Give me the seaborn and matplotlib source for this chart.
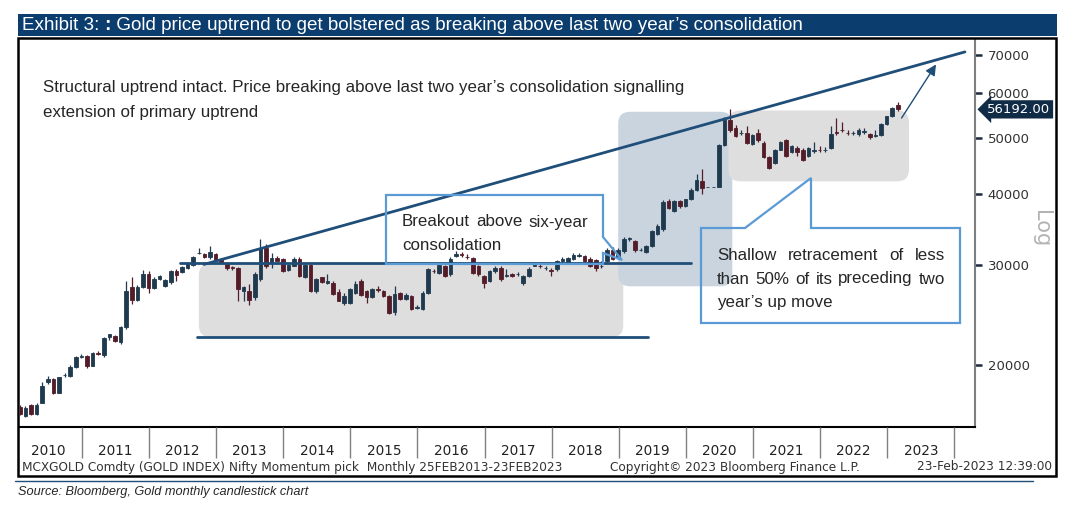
import numpy as np
import pandas as pd
import matplotlib
matplotlib.use('Agg')
import matplotlib.pyplot as plt
import matplotlib.transforms as mtransforms
from matplotlib.patches import FancyBboxPatch, Polygon, Rectangle
from matplotlib.lines import Line2D
from matplotlib.ticker import NullLocator
import seaborn as sns

# MCX gold, monthly candles Jan 2010 .. Feb 2023
opens = [16900, 16300, 17000, 16400, 17200, 18650, 18950, 17900, 19200, 19150, 19850, 20650,
         20750, 19950, 21000, 20800, 22400, 22500, 22000, 23300, 27400, 26050, 27400, 28950,
         27300, 28300, 27550, 27950, 29300, 29100, 29600, 30000, 31400, 31300, 30950, 31300,
         30700, 30200, 29700, 29600, 26950, 27000, 26300, 28300, 32100, 30250, 30850, 30650,
         29350, 29900, 30750, 28550, 30000, 26950, 28500, 27900, 27900, 26900, 25700, 25750,
         26800, 28100, 26950, 26300, 27150, 27000, 26450, 24800, 26800, 26100, 26450, 25200,
         25050, 26800, 29300, 29050, 29850, 28850, 31100, 31300, 31000, 30850, 29850, 28650,
         28100, 29200, 29650, 28700, 28850, 28900, 27900, 28650, 29900, 29900, 29600, 29400,
         29450, 30500, 30250, 30650, 31100, 31050, 30700, 30550, 29800, 30450, 31900, 30900,
         31700, 33300, 33000, 31800, 31550, 32300, 33900, 34600, 38800, 37250, 38800, 38050,
         39050, 40650, 42000, 41100, 41100, 41100, 48700, 53900, 52100, 51000, 51000, 48900,
         51000, 49100, 46400, 45200, 47750, 49600, 47350, 48100, 47750, 46600, 47500, 47700,
         47600, 48150, 51300, 51800, 51100, 51000, 50800, 51300, 50800, 50500, 50700, 53000,
         54600, 57300]
highs = [17000, 16950, 17100, 17150, 18650, 19150, 19000, 19100, 19350, 20000, 20750, 20900,
         20850, 21100, 21200, 22400, 22700, 22600, 23400, 28150, 28550, 27600, 29400, 29250,
         28500, 28800, 28300, 29400, 29500, 29800, 30250, 31100, 32100, 31400, 32400, 31500,
         30800, 30300, 29900, 29700, 27550, 27750, 29100, 33350, 32650, 31500, 31100, 30800,
         30100, 31000, 30900, 30150, 30100, 28450, 28600, 28950, 28100, 27150, 26800, 27300,
         28100, 28300, 27100, 27300, 27550, 27100, 26600, 27550, 26900, 26800, 26600, 25500,
         27000, 29600, 29500, 30100, 30000, 30900, 31700, 31600, 31300, 31000, 30000, 28800,
         29400, 29800, 29800, 29450, 29050, 29100, 28800, 29700, 30300, 30100, 29850, 29600,
         30600, 30900, 31000, 31400, 31450, 31200, 30900, 30700, 30450, 32100, 32200, 32050,
         33500, 33600, 33100, 32050, 32450, 34500, 35300, 39000, 39100, 39000, 39000, 39200,
         40900, 43300, 44250, 41100, 41100, 48900, 54400, 56300, 52800, 51600, 52500, 50900,
         52000, 49400, 46600, 47900, 49500, 49900, 48600, 48500, 48000, 48300, 49200, 48400,
         48200, 52600, 54200, 53400, 51600, 51400, 52100, 52200, 51000, 51600, 53200, 54800,
         56800, 58000]
lows = [16350, 16250, 16350, 16350, 17150, 18500, 17800, 17850, 19050, 19050, 19800, 20550,
        19800, 19900, 20800, 20700, 22100, 21950, 21750, 23100, 25600, 25900, 27300, 26800,
        27200, 28200, 27450, 27800, 28100, 29000, 29500, 29900, 31350, 30800, 30650, 30400,
        30200, 29400, 29400, 25900, 25950, 25450, 26000, 28100, 29650, 29650, 30400, 29150,
        29200, 29800, 28500, 28400, 26900, 26800, 27900, 27800, 26600, 25900, 25500, 25600,
        26650, 26400, 25700, 26200, 26900, 26350, 24600, 24500, 26000, 26000, 24950, 25100,
        24950, 26700, 29000, 28900, 28500, 28700, 30900, 30950, 30700, 28900, 28700, 27350,
        27950, 29050, 28150, 28550, 28550, 28700, 27600, 28500, 29800, 29600, 29400, 28650,
        29300, 30200, 30150, 30550, 30950, 30300, 29700, 29300, 29650, 30300, 30600, 30750,
        31500, 33000, 31650, 31700, 31400, 32200, 33800, 34450, 37600, 37100, 37800, 37900,
        38900, 40400, 39900, 41100, 41100, 41000, 48400, 51300, 50200, 50600, 48900, 48700,
        49300, 46200, 44100, 45000, 47600, 46400, 47200, 46600, 45600, 46400, 47200, 47300,
        47300, 47850, 50600, 51300, 50600, 50600, 50500, 50900, 49900, 50300, 50500, 52800,
        54400, 55900]
closes = [16400, 16850, 16400, 17050, 18400, 18950, 17900, 19050, 19250, 19850, 20650, 20750,
          19950, 21000, 20950, 22300, 22650, 22050, 23350, 27000, 26000, 27400, 28950, 27300,
          28300, 28650, 28200, 29250, 28800, 29700, 30150, 30950, 31500, 30900, 31600, 30500,
          30300, 29600, 29650, 27200, 27450, 26000, 28850, 32100, 29900, 30800, 30500, 29250,
          30000, 30650, 28650, 30000, 27000, 28300, 28000, 28150, 26700, 25950, 26450, 27150,
          27750, 26550, 26300, 27150, 27100, 26450, 24700, 26650, 26100, 26600, 25050, 25300,
          26800, 29450, 29200, 29950, 28650, 30650, 31300, 31150, 30900, 29050, 28850, 27900,
          29250, 29650, 28300, 28800, 28700, 28950, 28650, 29550, 30100, 29800, 29650, 29300,
          30450, 30650, 30850, 31250, 31200, 30450, 29850, 29650, 29900, 31900, 30700, 31900,
          33350, 33450, 31800, 31900, 32300, 34350, 35050, 38700, 37800, 38800, 38000, 39050,
          40650, 42300, 40950, 41100, 41100, 48700, 53900, 51700, 50400, 51100, 49100, 50700,
          49600, 46400, 44300, 47750, 49300, 46600, 48400, 47300, 45850, 48100, 47600, 47600,
          47700, 50900, 51000, 51600, 51000, 51100, 51600, 51400, 50300, 50700, 52900, 54600,
          56500, 56192]
years = ['2010', '2011', '2012', '2013', '2014', '2015', '2016', '2017', '2018', '2019',
         '2020', '2021', '2022', '2023']
price_ticks = [20000, 30000, 40000, 50000, 60000, 70000]

W, H = 1075, 505
UP = '#1f3a4f'
DOWN = '#531c28'
LINE = '#1f4e79'
CALLOUT = '#5b9bd5'
SANS = ['Liberation Sans', 'DejaVu Sans']
NOTE = 12.2

sns.set_theme(style='white')
plt.rcParams['font.family'] = ['DejaVu Sans']

fig = plt.figure(figsize=(W / 100, H / 100), dpi=100)
renderer = fig.canvas.get_renderer()


def px(x, y):
    return x / W, 1 - y / H


ax = fig.add_axes([20 / W, 1 - 427 / H, 955 / W, 387 / H])
axd = fig.add_axes([20 / W, 1 - 460 / H, 955 / W, 33 / H])

df = pd.DataFrame({'open': opens, 'high': highs, 'low': lows, 'close': closes})
df['t'] = np.arange(len(df))
col = np.where(df['close'] >= df['open'], UP, DOWN)

ax.set_yscale('log')
ax.set_xlim(0.02, 170.8)
ax.set_ylim(15580, 74360)

# candles
ax.vlines(df['t'], df['low'], df['high'], colors=col, lw=0.9, zorder=3)
ax.bar(df['t'], df['close'] - df['open'], bottom=df['open'], width=0.64,
       color=col, edgecolor=col, lw=0.6, zorder=4)


# shaded zones (month index, price)
def zone(t0, t1, p0, p1, color):
    (x0, y0), (x1, y1) = ax.transData.transform([(t0, p0), (t1, p1)])
    ax.add_patch(FancyBboxPatch((x0, y0), x1 - x0, y1 - y0,
                                boxstyle='round,pad=0,rounding_size=12',
                                transform=mtransforms.IdentityTransform(),
                                fc=color, ec='none', zorder=1))


zone(32.0, 107.9, 22390, 30160, '#dedede')
zone(107.0, 127.4, 27500, 55650, '#c9d4df')
zone(126.7, 159.0, 42020, 55940, '#dedede')

# trend, resistance and support lines
guides = pd.DataFrame({'t': [32.9, 169.0, 28.6, 120.0, 31.7, 112.4],
                       'price': [30040, 70870, 30160, 30160, 22390, 22390],
                       'line': ['trend', 'trend', 'res', 'res', 'sup', 'sup']})
sns.lineplot(data=guides, x='t', y='price', units='line', estimator=None,
             color=LINE, lw=2, ax=ax, zorder=5, legend=False)
ax.annotate('', xy=(164.1, 68010), xytext=(157.4, 53750),
            arrowprops=dict(arrowstyle='-|>', color=LINE, lw=1, mutation_scale=16),
            zorder=5)

ax.set_xlabel('')
ax.set_ylabel('')
ax.set_xticks([])
ax.set_yticks(price_ticks)
ax.set_yticklabels([str(p) for p in price_ticks])
ax.yaxis.set_minor_locator(NullLocator())
ax.yaxis.tick_right()
ax.tick_params(axis='y', which='major', right=True, left=False, labelright=True,
               labelleft=False, direction='out', length=5, width=1.8,
               color='#1a2a3a', labelsize=9.5, labelcolor='#333333', pad=4)
for s in ['left', 'top']:
    ax.spines[s].set_visible(False)
ax.spines['bottom'].set_color('black')
ax.spines['bottom'].set_linewidth(1.5)
ax.spines['right'].set_color('#808080')
ax.spines['right'].set_linewidth(1.5)

# last price tag
tag = mtransforms.blended_transform_factory(ax.transAxes, ax.transData)
ax.text(1.046, closes[-1], f'{closes[-1]:.2f}', transform=tag, ha='center',
        va='center', color='white', size=9.5, clip_on=False,
        bbox=dict(boxstyle='larrow,pad=0.2', fc='#0f2b46', ec='none'))

# year row
axd.set_xlim(ax.get_xlim())
axd.set_ylim(0, 1)
axd.axis('off')
for k, y in enumerate(years):
    axd.text(5.1 + 12 * k, 0.27, y, ha='center', va='center', size=9.8, color='#222222')
    axd.vlines(11.1 + 12 * k, 0.06, 1, color='#808080', lw=1)

# frame, title bar and footers
fig.add_artist(Rectangle(px(18, 476), 1038 / W, 438 / H, transform=fig.transFigure,
                         fill=False, ec='black', lw=1.8))
fig.add_artist(Rectangle(px(18, 36), 1039 / W, 22 / H, transform=fig.transFigure,
                         fc='#0b3d6e', ec='none'))

# title in three pieces so the second colon can be bold
x = 22
for piece, weight in (('Exhibit 3: ', 'normal'), (':', 'bold'),
                      (' Gold price uptrend to get bolstered as breaking above last two '
                       'year\u2019s consolidation', 'normal')):
    t = fig.text(*px(x, 25.5), piece, color='white', size=13.55, family=SANS,
                 weight=weight, va='center')
    x += t.get_window_extent(renderer).width

fig.text(*px(1041, 229), 'Log', rotation=270, color='#b3b3b3', size=15,
         ha='center', va='center')
fig.text(*px(22, 467), 'MCXGOLD Comdty (GOLD INDEX) Nifty Momentum pick  Monthly '
         '25FEB2013-23FEB2023', size=8.7, color='#333333', va='center')
fig.text(*px(610, 467), 'Copyright\u00a9 2023 Bloomberg Finance L.P.', size=8.7,
         color='#333333', va='center')
fig.text(*px(1052, 467), '23-Feb-2023 12:39:00', size=8.7, color='#333333',
         va='center', ha='right')
fig.add_artist(Line2D([15 / W, 1033 / W], [1 - 481 / H] * 2, color=LINE, lw=1))
fig.text(*px(18, 492), 'Source: Bloomberg, Gold monthly candlestick chart', size=9.2,
         style='italic', family=SANS, va='center')

# annotation text
fig.text(*px(43, 88), 'Structural uptrend intact. Price breaking above last two year\u2019s '
         'consolidation signalling', family=SANS, size=NOTE, va='center')
fig.text(*px(43, 112), 'extension of primary uptrend', family=SANS, size=NOTE, va='center')

for pts in ([(386, 195), (603, 195), (603, 237), (622, 260), (603, 253), (603, 264), (386, 264)],
            [(701, 228), (745, 228), (811, 178), (811, 228), (960, 228), (960, 323), (701, 323)]):
    fig.add_artist(Polygon([px(x, y) for x, y in pts], closed=True, fill=False,
                           ec=CALLOUT, lw=1.6, transform=fig.transFigure))


def justified(line, x0, x1, y):
    words = line.split(' ')
    texts = [fig.text(0, 0, w, family=SANS, size=NOTE, va='center') for w in words]
    widths = [t.get_window_extent(renderer).width for t in texts]
    gap = (x1 - x0 - sum(widths)) / max(len(words) - 1, 1)
    x = x0
    for t, w in zip(texts, widths):
        t.set_position(px(x, y))
        x += w + gap


justified('Breakout above six-year', 402, 588, 222)
fig.text(*px(402, 246), 'consolidation', family=SANS, size=NOTE, va='center')
justified('Shallow retracement of less', 717, 945, 255)
justified('than 50% of its preceding two', 717, 945, 279)
fig.text(*px(717, 302), 'year\u2019s up move', family=SANS, size=NOTE, va='center')

fig.savefig('out.png', dpi=100)
